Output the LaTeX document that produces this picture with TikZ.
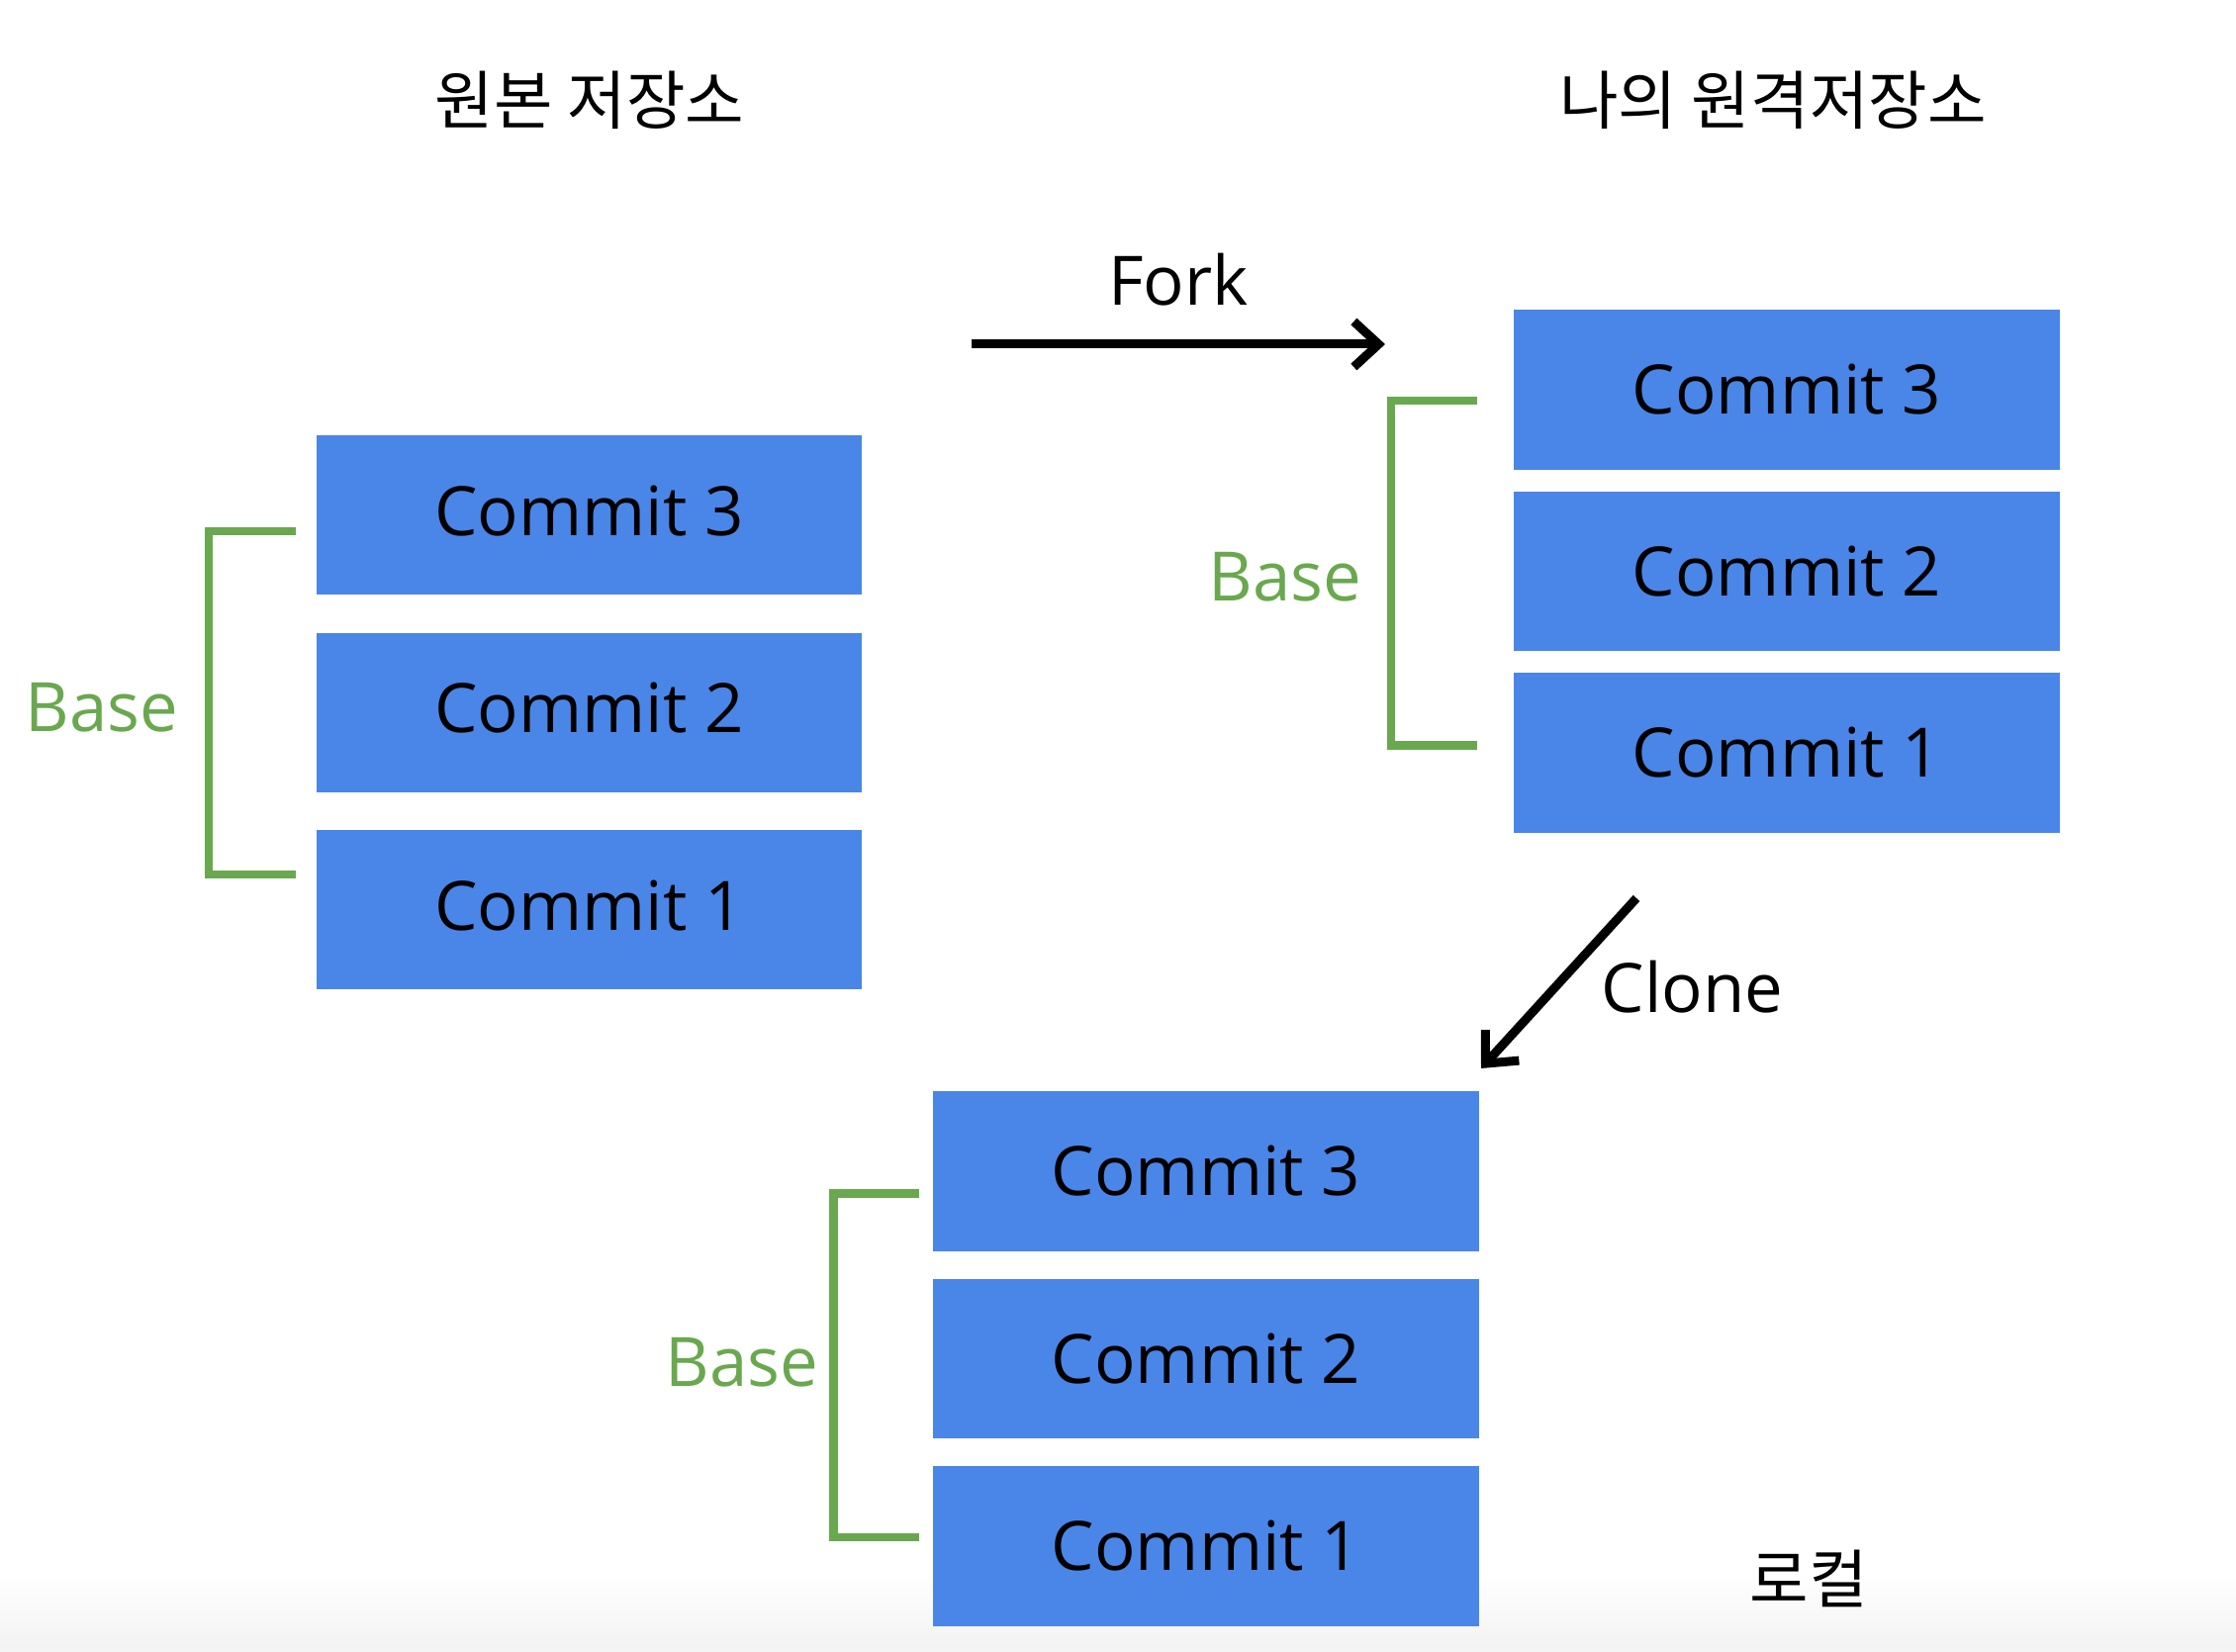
\documentclass[tikz,border=0pt]{standalone}
\usepackage{fontspec}
\setmainfont{Open Sans}
\newfontfamily\krfont{Noto Sans CJK KR}
\usetikzlibrary{arrows.meta, positioning}
\definecolor{commitblue}{RGB}{74,134,232}
\definecolor{basegreen}{RGB}{106,168,79}
\newcommand{\labelfont}{\fontsize{19.6}{24}\selectfont}
\newcommand{\titlefont}{\krfont\fontsize{18.4}{22}\selectfont}

\begin{document}
\begin{tikzpicture}[x=0.01cm, y=-0.01cm,
    commit/.style={fill=commitblue, minimum width=5.51cm, minimum height=1.61cm, inner sep=0pt, font=\labelfont},
    base/.style={basegreen, font=\labelfont, anchor=base east, inner sep=0pt},
    bracket/.style={basegreen, line width=0.086cm, line join=miter},
    flow/.style={line width=0.09cm, -{Straight Barb[length=0.25cm, width=0.46cm, line join=miter]}},
    title/.style={font=\titlefont, inner sep=0pt}]
    \useasboundingbox (0,0) rectangle (2260,1670);
    % faint shadow at the bottom edge
    \shade[top color=white, bottom color=black!5] (0,1590) rectangle (2260,1670);

    % Titles
    \node[title] (origtitle) at (596,101) {원본 저장소};
    \node[title] (forktitle) at (1792,101) {나의 원격저장소};
    \node[title] (localtitle) at (1828,1596) {로컬};

    % Original repository
    \node[commit, text depth=0.1cm] (o3) at (595.5,520.8) {Commit 3};
    \node[commit, text depth=0.1cm, below=0.37cm of o3] (o2) {Commit 2};
    \node[commit, text depth=0.1cm, below=0.37cm of o2] (o1) {Commit 1};

    % My remote repository
    \node[commit] (f3) at (1806,394) {Commit 3};
    \node[commit, below=0.21cm of f3] (f2) {Commit 2};
    \node[commit, below=0.21cm of f2] (f1) {Commit 1};

    % Local repository
    \node[commit] (l3) at (1219,1184) {Commit 3};
    \node[commit, below=0.27cm of l3] (l2) {Commit 2};
    \node[commit, below=0.27cm of l2] (l1) {Commit 1};

    % Base brackets
    \coordinate (obtop) at (298.5,537);
    \coordinate (obbot) at (298.5,884);
    \draw[bracket] (obtop) -- ++(-87.5,0) |- (obbot);
    \node[base] (obase) at (181,739) {Base};

    \coordinate (fbtop) at (1493,405);
    \coordinate (fbbot) at (1493,753.6);
    \draw[bracket] (fbtop) -- ++(-87,0) |- (fbbot);
    \node[base] (fbase) at (1377,607) {Base};

    \coordinate (lbtop) at (929.4,1206.6);
    \coordinate (lbbot) at (929.4,1554);
    \draw[bracket] (lbtop) -- ++(-87,0) |- (lbbot);
    \node[base] (lbase) at (828,1401) {Base};

    % Fork and clone arrows
    \coordinate (forkfrom) at (982,348);
    \coordinate (forkto) at (1400,348);
    \draw[flow] (forkfrom) -- node[above=0.34cm, inner sep=0pt, font=\labelfont] (forklabel) {Fork} (forkto);

    \coordinate (clonefrom) at (1654,908);
    \coordinate (cloneto) at (1497,1080);
    \draw[flow] (clonefrom) -- (cloneto);
    \node[font=\labelfont, anchor=base west, inner sep=0pt] (clonelabel) at (1618,1023) {Clone};
\end{tikzpicture}
\end{document}
